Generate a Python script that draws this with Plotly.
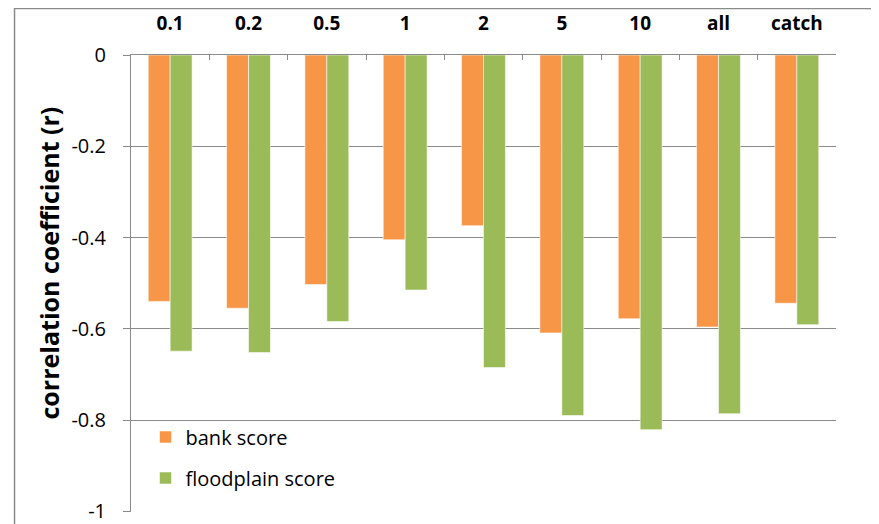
import plotly.graph_objects as go

# distance classes along the top axis
categories = ['0.1', '0.2', '0.5', '1', '2', '5', '10', 'all', 'catch']

bank_score = [-0.540, -0.555, -0.503, -0.405, -0.374, -0.609, -0.578, -0.596, -0.544]
floodplain_score = [-0.649, -0.652, -0.584, -0.515, -0.685, -0.790, -0.821, -0.786, -0.591]

y_ticks = [0, -0.2, -0.4, -0.6, -0.8, -1]
y_tick_labels = ['0', '-0.2', '-0.4', '-0.6', '-0.8', '-1']
y_title = 'correlation coefficient (r)'

font_name = 'Open Sans'
grid_col = '#8a8a8a'

fig = go.Figure()

fig.add_trace(
    go.Bar(
        x=categories,
        y=bank_score,
        name='bank score',
        legendgroup='bank',
        marker=dict(color='#F79646', line=dict(color='rgba(255,255,255,0.55)', width=1))
    )
)

fig.add_trace(
    go.Bar(
        x=categories,
        y=floodplain_score,
        name='floodplain score',
        legendgroup='flood',
        marker=dict(color='#9BBB59', line=dict(color='rgba(255,255,255,0.55)', width=1))
    )
)

fig.update_xaxes(
    side='top',
    automargin=False,
    showline=True,
    linecolor=grid_col,
    linewidth=1,
    ticks='inside',
    ticklen=5,
    tickcolor=grid_col,
    tickson='boundaries',
    ticklabelstandoff=16,
    tickfont=dict(family=font_name, size=19, color='black', weight='bold'),
    showgrid=False
)

fig.update_yaxes(
    range=[-1.0015, 0],
    automargin=False,
    tickvals=y_ticks,
    ticktext=y_tick_labels,
    showline=True,
    linecolor=grid_col,
    linewidth=1,
    ticks='outside',
    ticklen=7,
    tickcolor=grid_col,
    ticklabelstandoff=13,
    tickfont=dict(family=font_name, size=20, color='black'),
    showgrid=True,
    gridcolor=grid_col,
    gridwidth=1,
    zeroline=False
)

# y title as annotation, sits a bit above the plot middle like the original
fig.add_annotation(
    text=y_title,
    xref='paper', yref='paper',
    x=-0.1163, y=0.5438,
    xanchor='center', yanchor='middle',
    textangle=-90,
    showarrow=False,
    font=dict(family=font_name, size=25, color='black', weight='bold')
)

# outer chart border
fig.add_shape(
    type='rect', xref='paper', yref='paper',
    x0=-0.1652, x1=1.0589, y0=-0.2, y1=1.1018,
    line=dict(color=grid_col, width=1.5),
    layer='below'
)

# page body adds an 8px offset, margins account for it
fig.update_layout(
    width=879,
    height=524,
    margin=dict(l=123, r=51, t=47, b=20),
    plot_bgcolor='#FFFFFF',
    paper_bgcolor='#FFFFFF',
    barmode='group',
    bargap=0.44,
    bargroupgap=0,
    showlegend=True,
    legend=dict(
        x=0.0206,
        y=0.2068,
        xanchor='left',
        yanchor='top',
        bgcolor='rgba(0,0,0,0)',
        tracegroupgap=12,
        itemwidth=30,
        font=dict(family=font_name, size=20, color='black')
    ),
    font=dict(family=font_name)
)

fig.write_html('out.html')
